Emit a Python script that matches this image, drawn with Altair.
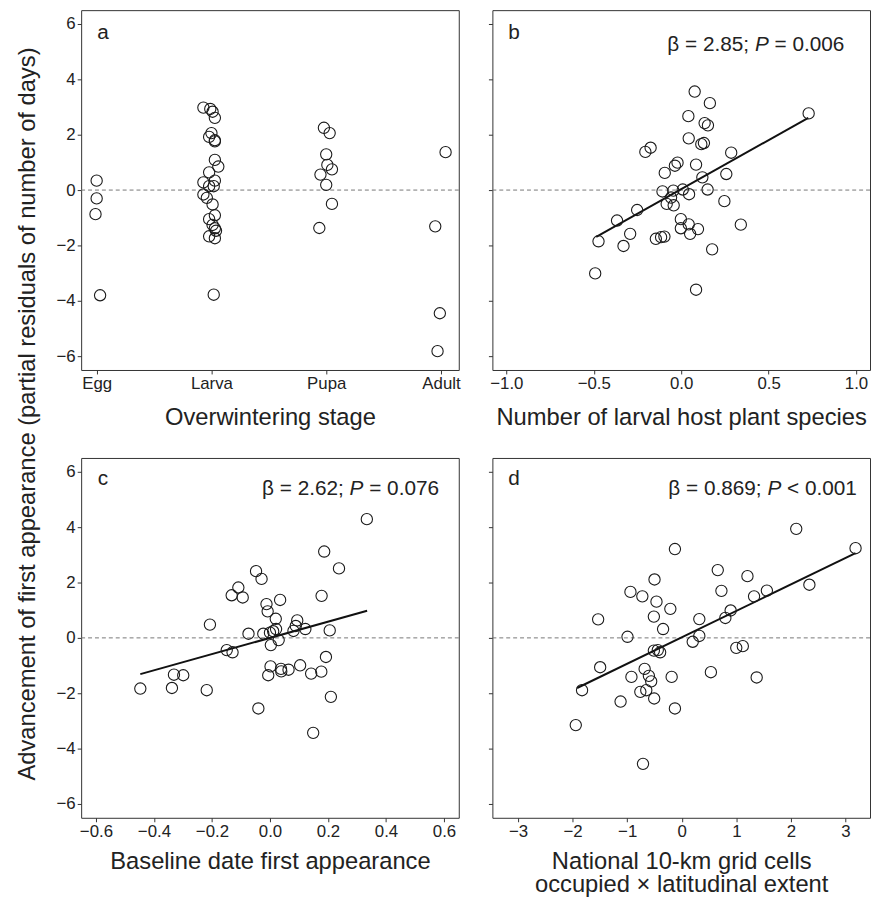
import altair as alt
import pandas as pd

FONT = "Liberation Sans"
INK = "#222222"

# ---------------- data ----------------
stage_names = ["Egg", "Larva", "Pupa", "Adult"]

# panel a: overwintering stage (1=Egg ... 4=Adult, small horizontal jitter as drawn)
a_x = [1.00, 1.00, 0.99, 1.03,
       1.93, 1.99, 2.01, 2.03, 2.00, 1.98, 2.03, 2.03, 2.03, 2.06, 1.98, 1.93, 2.03,
       1.98, 2.02, 1.93, 1.96, 2.01, 2.03, 1.98, 2.01, 2.03, 2.04, 1.98, 2.03, 2.02,
       2.98, 3.03, 3.00, 3.01, 3.05, 2.95, 3.00, 3.05, 2.94,
       4.04, 3.95, 3.99, 3.97]
a_y = [0.34, -0.30, -0.87, -3.80,
       2.98, 2.93, 2.83, 2.61, 2.06, 1.92, 1.80, 1.76, 1.09, 0.85, 0.64, 0.28, 0.34,
       0.14, 0.14, -0.16, -0.28, -0.52, -0.91, -1.05, -1.26, -1.38, -1.47, -1.67, -1.74, -3.78,
       2.25, 2.06, 1.29, 0.91, 0.75, 0.56, 0.19, -0.50, -1.37,
       1.37, -1.31, -4.45, -5.82]

# panel b: number of larval host plant species
b_x = [0.077, 0.164, 0.041, 0.134, 0.153, 0.729, 0.043, 0.115, 0.130, -0.205, -0.175,
       0.286, -0.021, -0.036, 0.085, -0.094, 0.258, 0.121, -0.107, -0.045, 0.009, 0.151,
       0.045, -0.058, -0.083, -0.043, -0.252, 0.247, -0.367, -0.002, 0.043, -0.002, 0.096,
       0.051, 0.341, -0.292, -0.473, -0.145, -0.115, -0.096, -0.330, 0.177, -0.492, 0.085]
b_y = [3.56, 3.14, 2.67, 2.42, 2.34, 2.77, 1.87, 1.66, 1.70, 1.38, 1.53,
       1.35, 0.99, 0.88, 0.92, 0.62, 0.58, 0.46, -0.05, -0.02, 0.02, 0.02,
       -0.15, -0.27, -0.50, -0.55, -0.72, -0.40, -1.10, -1.05, -1.24, -1.38, -1.41,
       -1.58, -1.25, -1.58, -1.85, -1.76, -1.70, -1.68, -2.02, -2.14, -3.01, -3.60]
b_fit_x = [-0.486, 0.727]
b_fit_y = [-1.69, 2.61]

# panel c: baseline date first appearance
c_x = [0.334, 0.187, 0.238, -0.048, -0.029, -0.109, -0.132, -0.094, 0.178, 0.035, -0.012,
       -0.008, 0.020, -0.207, 0.094, 0.089, 0.081, 0.122, 0.206, -0.074, -0.023, 0.000,
       0.011, 0.021, 0.030, 0.003, -0.149, -0.129, 0.193, 0.002, 0.038, 0.039, 0.064,
       0.104, -0.006, 0.142, 0.177, -0.331, -0.299, -0.447, -0.338, -0.218, 0.210, -0.040, 0.149]
c_y = [4.29, 3.12, 2.51, 2.41, 2.13, 1.82, 1.54, 1.46, 1.52, 1.37, 1.22,
       0.96, 0.69, 0.48, 0.63, 0.43, 0.25, 0.32, 0.27, 0.15, 0.15, 0.19,
       0.24, 0.32, -0.08, -0.26, -0.44, -0.52, -0.69, -1.03, -1.12, -1.21, -1.15,
       -0.99, -1.35, -1.29, -1.22, -1.33, -1.35, -1.83, -1.81, -1.89, -2.13, -2.55, -3.43]
c_fit_x = [-0.447, 0.335]
c_fit_y = [-1.31, 0.98]

# panel d: national 10-km grid cells occupied x latitudinal extent
d_x = [2.098, 3.185, -0.125, 0.660, 1.204, -0.499, 0.727, 1.560, 2.339, -0.940, -0.722,
       1.325, -0.463, -0.209, -0.511, 0.896, 0.799, 0.322, -1.532, -0.342, -0.994, 0.322,
       0.201, -0.511, -0.439, -0.396, 0.999, 1.119, -1.495, -0.680, -0.602, -0.560, -0.922,
       -0.185, 0.534, 1.373, -1.827, -0.759, -0.650, -0.505, -1.121, -0.125, -1.942, -0.710]
d_y = [3.94, 3.24, 3.21, 2.45, 2.23, 2.11, 1.70, 1.71, 1.92, 1.66, 1.50,
       1.50, 1.31, 1.05, 0.77, 0.99, 0.72, 0.68, 0.67, 0.32, 0.04, 0.07,
       -0.14, -0.46, -0.44, -0.52, -0.36, -0.30, -1.06, -1.12, -1.37, -1.57, -1.41,
       -1.41, -1.24, -1.43, -1.89, -1.95, -1.89, -2.19, -2.30, -2.55, -3.15, -4.55]
d_fit_x = [-1.918, 3.184]
d_fit_y = [-1.81, 3.06]

y_ticks = [-6, -4, -2, 0, 2, 4, 6]
b_ticks = [-1.0, -0.5, 0.0, 0.5, 1.0]
c_ticks = [-0.6, -0.4, -0.2, 0.0, 0.2, 0.4, 0.6]
d_ticks = [-3, -2, -1, 0, 1, 2, 3]

# statistics text: (before italic P, comparison, after)
b_stat = ("\u03b2 = 2.85;", "=", "0.006")
c_stat = ("\u03b2 = 2.62;", "=", "0.076")
d_stat = ("\u03b2 = 0.869;", "<", "0.001")

Y_TITLE = "Advancement of first appearance (partial residuals of number of days)"

# ---------------- helpers ----------------
W, H = 382, 364
ROW_GAP, COL_GAP = 89, 34
Y_DOMAIN = [-6.5, 6.5]

CHAR_W = {" ": 0.278, "=": 0.584, "<": 0.584, ";": 0.278, ".": 0.278,
          "P": 0.667, "\u03b2": 0.575}


def text_w(s, size):
    return sum(CHAR_W.get(ch, 0.556) for ch in s) * size


def txt(text, px, py, size=21, italic=False, align="left", angle=0):
    return alt.Chart(pd.DataFrame({"t": [text]})).mark_text(
        align=align, baseline="alphabetic", font=FONT, fontSize=size, angle=angle,
        fontStyle="italic" if italic else "normal", color=INK
    ).encode(text="t:N", x=alt.value(px), y=alt.value(py))


def stat_layers(stat, left, base, size=21):
    pre, op, val = stat
    x1 = left + text_w(pre + " ", size)
    x2 = x1 + text_w("P ", size)
    return [txt(pre, left, base, size),
            txt("P", x1, base, size, italic=True),
            txt(op + " " + val, x2, base, size)]


def panel(xs, ys, x_domain, x_axis, show_y, letter, letter_y,
          fit_x=None, fit_y=None, stat=None, stat_left=0, stat_base=0, extra=None):
    xsc = alt.Scale(domain=x_domain, nice=False, zero=False)
    ysc = alt.Scale(domain=Y_DOMAIN, nice=False, zero=False)
    y_axis = alt.Axis(values=y_ticks, title=None, labels=show_y)
    pts = pd.DataFrame({"x": xs, "y": ys})
    zero = alt.Chart(pd.DataFrame({"y": [0]})).mark_rule(
        color="#777777", strokeDash=[4, 3], strokeWidth=1
    ).encode(y=alt.Y("y:Q", scale=ysc, axis=y_axis))
    layers = [zero]
    if fit_x is not None:
        layers.append(alt.Chart(pd.DataFrame({"x": fit_x, "y": fit_y})).mark_line(
            color="#111111", strokeWidth=2
        ).encode(x=alt.X("x:Q", scale=xsc, axis=x_axis),
                 y=alt.Y("y:Q", scale=ysc, axis=y_axis)))
    layers.append(alt.Chart(pts).mark_point(
        shape="circle", filled=False, size=130, stroke="#1a1a1a", strokeWidth=1.1, opacity=1
    ).encode(x=alt.X("x:Q", scale=xsc, axis=x_axis),
             y=alt.Y("y:Q", scale=ysc, axis=y_axis)))
    layers.append(txt(letter, 22, letter_y, size=21, align="center"))
    if stat is not None:
        layers += stat_layers(stat, stat_left, stat_base)
    if extra is not None:
        layers.append(extra)
    return alt.layer(*layers).properties(width=W, height=H)


label_expr = "[" + ",".join("'%s'" % s for s in stage_names) + "][datum.value - 1]"

# shared y title, centred on the two rows of plot areas, drawn from panel a
y_title = txt(Y_TITLE, -47, (2 * H + ROW_GAP) / 2, size=24, align="center", angle=270)

pa = panel(a_x, a_y, [0.865, 4.155],
           alt.Axis(values=[1, 2, 3, 4], labelExpr=label_expr, title="Overwintering stage",
                    titlePadding=14),
           True, "a", 29, extra=y_title)
pb = panel(b_x, b_y, [-1.08, 1.08],
           alt.Axis(values=b_ticks, format=".1f", title="Number of larval host plant species",
                    titlePadding=14),
           False, "b", 29, b_fit_x, b_fit_y, b_stat, 177, 41)
pc = panel(c_x, c_y, [-0.651, 0.651],
           alt.Axis(values=c_ticks, format=".1f", title="Baseline date first appearance",
                    titlePadding=10),
           True, "c", 27, c_fit_x, c_fit_y, c_stat, 183, 37.5)
pdd = panel(d_x, d_y, [-3.47, 3.45],
            alt.Axis(values=d_ticks, format="d",
                     title=["National 10-km grid cells", "occupied \u00d7 latitudinal extent"],
                     titlePadding=10),
            False, "d", 27, d_fit_x, d_fit_y, d_stat, 178, 37.5)

chart = alt.concat(
    pa, pb, pc, pdd, columns=2, spacing={"row": ROW_GAP, "column": COL_GAP}, bounds="flush"
).properties(
    padding={"left": 7, "top": -4, "right": 0, "bottom": 0},
).configure_view(
    stroke="#333333", strokeWidth=1
).configure_axis(
    grid=False, domain=False, tickColor="#333333", tickSize=4,
    labelFont=FONT, labelFontSize=17, labelColor=INK, labelPadding=2,
    titleFont=FONT, titleFontSize=24, titleFontWeight="normal", titleColor=INK,
    titleLineHeight=24,
)

chart.save("out.html", embed_options={"renderer": "svg", "actions": False})
